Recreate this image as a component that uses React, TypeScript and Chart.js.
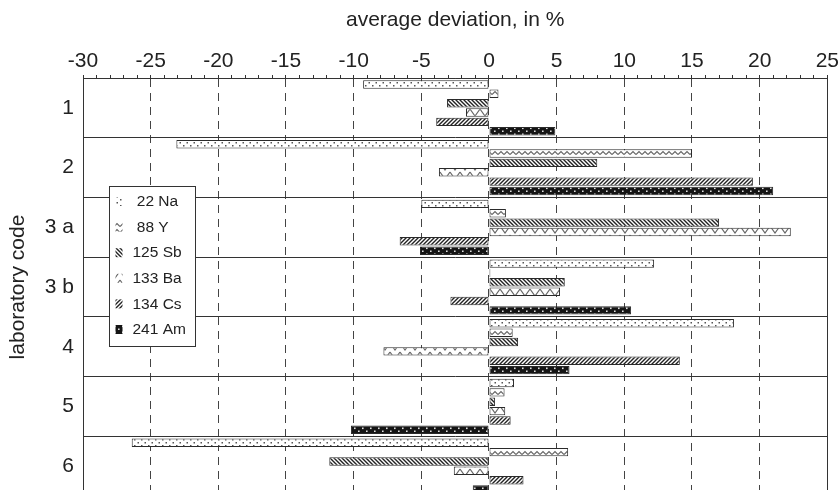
import React, { useEffect, useRef } from 'react';
import { Chart, registerables } from 'chart.js';

Chart.register(...registerables);

// ---- data ----
const labCodes = ['1', '2', '3 a', '3 b', '4', '5', '6'];
const nuclides = ['22 Na', '88 Y', '125 Sb', '133 Ba', '134 Cs', '241 Am'];
const na22 = [-9.3, -23.1, -5.0, 12.2, 18.1, 1.85, -26.4];
const y88 = [0.7, 15.0, 1.25, 0.1, 1.75, 1.15, 5.85];
const sb125 = [-3.1, 8.0, 17.0, 5.6, 2.15, 0.45, -11.8];
const ba133 = [-1.7, -3.7, 22.3, 5.25, -7.8, 1.2, -2.6];
const cs134 = [-3.9, 19.5, -6.6, -2.85, 14.1, 1.6, 2.55];
const am241 = [4.9, 21.0, -5.1, 10.5, 5.95, -10.2, -1.2];
const seriesValues = [na22, y88, sb125, ba133, cs134, am241];
const xMin = -30;
const xMax = 25;
const xMajorStep = 5;

const FONT = '"Liberation Sans", Arial, Helvetica, sans-serif';

type PatternKind = 'dots' | 'zigSmall' | 'backslash' | 'zigBig' | 'slash' | 'darkDots';
const patternKinds: PatternKind[] = ['dots', 'zigSmall', 'backslash', 'zigBig', 'slash', 'darkDots'];

function makePattern(kind: PatternKind): CanvasPattern | string {
  const c = document.createElement('canvas');
  let w = 7, h = 6;
  if (kind === 'zigSmall') { w = 6; h = 6; }
  if (kind === 'backslash' || kind === 'slash') { w = 4; h = 4; }
  if (kind === 'zigBig') { w = 10; h = 9; }
  if (kind === 'darkDots') { w = 8; h = 6; }
  c.width = w; c.height = h;
  const g = c.getContext('2d')!;
  g.fillStyle = kind === 'darkDots' ? '#151515' : '#ffffff';
  g.fillRect(0, 0, w, h);
  if (kind === 'dots') {
    g.fillStyle = '#555';
    g.fillRect(1, 1, 1.5, 1.5);
    g.fillRect(4.5, 4, 1.5, 1.5);
  } else if (kind === 'darkDots') {
    g.fillStyle = '#e0e0e0';
    g.fillRect(2, 1.5, 1.6, 1.6);
    g.fillRect(6, 4.5, 1.6, 1.6);
  } else if (kind === 'zigSmall') {
    g.strokeStyle = '#666';
    g.lineWidth = 1.2;
    g.beginPath();
    g.moveTo(0, 4.5); g.lineTo(3, 1.5); g.lineTo(6, 4.5);
    g.stroke();
  } else if (kind === 'zigBig') {
    g.strokeStyle = '#666';
    g.lineWidth = 1.2;
    g.beginPath();
    g.moveTo(0, 1); g.lineTo(5, 8); g.lineTo(10, 1);
    g.stroke();
  } else if (kind === 'backslash') {
    g.strokeStyle = '#222';
    g.lineWidth = 1.4;
    g.beginPath();
    g.moveTo(0, 0); g.lineTo(4, 4);
    g.moveTo(-1, 3); g.lineTo(1, 5);
    g.moveTo(3, -1); g.lineTo(5, 1);
    g.stroke();
  } else if (kind === 'slash') {
    g.strokeStyle = '#222';
    g.lineWidth = 1.4;
    g.beginPath();
    g.moveTo(0, 4); g.lineTo(4, 0);
    g.moveTo(-1, 1); g.lineTo(1, -1);
    g.moveTo(3, 5); g.lineTo(5, 3);
    g.stroke();
  }
  return g.createPattern(c, 'repeat') || '#888';
}

const boxLegendPlugin = {
  id: 'boxLegend',
  afterDatasetsDraw(chart: any) {
    const { ctx, chartArea } = chart;
    const x0 = chartArea.left + 26.5;
    const y0 = 186.5;
    const w = 86;
    const h = 160;
    ctx.save();
    ctx.fillStyle = '#fff';
    ctx.fillRect(x0, y0, w, h);
    ctx.strokeStyle = '#333';
    ctx.lineWidth = 1;
    ctx.strokeRect(x0, y0, w, h);
    ctx.font = `15.5px ${FONT}`;
    ctx.textBaseline = 'middle';
    ctx.textAlign = 'left';
    chart.data.datasets.forEach((ds: any, i: number) => {
      const cy = y0 + 15 + i * 25.6;
      ctx.fillStyle = ds.backgroundColor;
      ctx.fillRect(x0 + 6, cy - 4.5, 7, 9);
      ctx.fillStyle = '#222';
      const label: string = ds.label;
      const txt = (label.split(' ')[0].length === 2 ? ' ' : '') + label;
      ctx.fillText(txt, x0 + 23, cy + 0.5);
    });
    ctx.restore();
  },
  afterDraw(chart: any) {
    const { ctx, chartArea } = chart;
    ctx.save();
    ctx.strokeStyle = '#333';
    ctx.lineWidth = 1;
    ctx.beginPath();
    const x = Math.round(chartArea.right) + 0.5;
    ctx.moveTo(x, chartArea.top);
    ctx.lineTo(x, chartArea.bottom);
    ctx.stroke();
    ctx.restore();
  },
};

export default function App() {
  const canvasRef = useRef<HTMLCanvasElement | null>(null);

  useEffect(() => {
    const canvas = canvasRef.current;
    if (!canvas) return;
    Chart.defaults.font.family = FONT;
    Chart.defaults.color = '#222';

    const datasets = nuclides.map((name, i) => ({
      label: name,
      data: seriesValues[i],
      backgroundColor: makePattern(patternKinds[i]) as any,
      borderColor: '#2a2a2a',
      borderWidth: 1,
      borderSkipped: false as any,
      barPercentage: 0.9,
      categoryPercentage: 0.94,
    }));

    const chart = new Chart(canvas, {
      type: 'bar',
      data: { labels: labCodes, datasets },
      plugins: [boxLegendPlugin],
      options: {
        indexAxis: 'y',
        animation: false,
        responsive: false,
        devicePixelRatio: 1,
        layout: { padding: { top: 0, left: 0, right: 11, bottom: 4 } },
        plugins: {
          legend: { display: false },
          tooltip: { enabled: false },
        },
        scales: {
          x: {
            type: 'linear',
            position: 'top',
            min: xMin,
            max: xMax,
            afterFit: (scale: any) => { scale.height = 78; },
            afterBuildTicks: (scale: any) => {
              const t = [];
              for (let v = xMin; v <= xMax; v += 1) t.push({ value: v });
              scale.ticks = t;
            },
            ticks: {
              autoSkip: false,
              maxRotation: 0,
              padding: 1,
              color: '#222',
              font: { size: 21 },
              callback: (v: any) => (Number(v) % xMajorStep === 0 ? String(v) : ''),
            },
            grid: {
              drawOnChartArea: true,
              drawTicks: true,
              tickLength: 3,
              tickColor: '#333',
              color: (ctx: any) =>
                ctx.tick && ctx.tick.value % xMajorStep === 0 ? '#444' : 'rgba(0,0,0,0)',
              lineWidth: 1,
            },
            border: { display: true, color: '#333', width: 1, dash: [8, 6] },
            title: {
              display: true,
              text: 'average deviation, in %',
              color: '#222',
              font: { size: 21 },
              padding: { top: 8, bottom: 0 },
            },
          },
          y: {
            type: 'category',
            afterFit: (scale: any) => {
              scale.width = 83;
              scale.paddingTop = 0;
              scale.paddingBottom = 0;
            },
            ticks: { color: '#222', font: { size: 21 }, padding: 9 },
            grid: {
              offset: true,
              drawTicks: false,
              color: '#333',
              lineWidth: 1,
            },
            border: { display: true, color: '#333', width: 1 },
            title: {
              display: true,
              text: 'laboratory code',
              color: '#222',
              font: { size: 21 },
              padding: { top: 6, bottom: 0 },
            },
          },
        },
      },
    });

    return () => chart.destroy();
  }, []);

  return (
    <div
      style={{
        position: 'fixed',
        top: 0,
        left: 0,
        width: 840,
        height: 490,
        overflow: 'hidden',
        background: '#fff',
      }}
    >
      <canvas ref={canvasRef} width={840} height={500} style={{ display: 'block' }} />
    </div>
  );
}
